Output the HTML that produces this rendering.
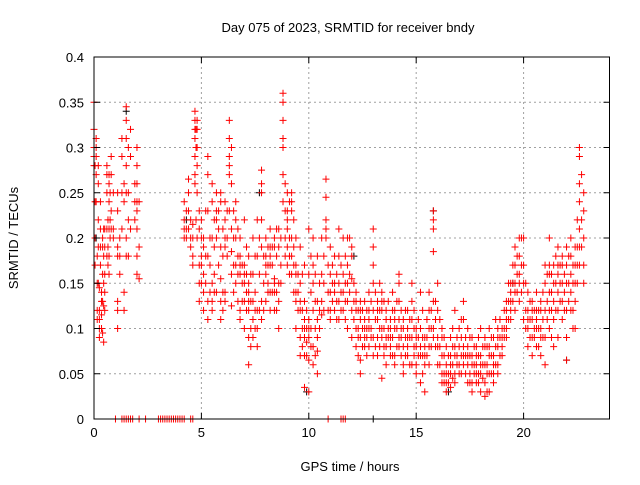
<!DOCTYPE html>
<html><head><meta charset="utf-8"><style>
body{margin:0;background:#fff;}
svg text{font-family:"Liberation Sans",sans-serif;font-size:13px;fill:#000;}
</style></head><body>
<svg id="c" width="640" height="480" xmlns="http://www.w3.org/2000/svg">
<rect width="640" height="480" fill="#fff"/>
<g id="grid"></g>
<g id="pts"></g>
<rect x="94" y="57" width="515.5" height="362" fill="none" stroke="#000" stroke-width="1"/>
<g id="axes"></g>
<text x="348" y="32" text-anchor="middle">Day 075 of 2023, SRMTID for receiver bndy</text>
<text x="350" y="471" text-anchor="middle">GPS time / hours</text>
<text transform="translate(18,238) rotate(-90)" text-anchor="middle">SRMTID / TECUs</text>
</svg>
<script>
const xTicks=[0,5,10,15,20];
const yTicks=[0,0.05,0.1,0.15,0.2,0.25,0.3,0.35,0.4];
const yTickLabels=["0","0.05","0.1","0.15","0.2","0.25","0.3","0.35","0.4"];
const redGroups=[
[0.0,[0.35,0.32,0.3,0.28,0.29]],[0.05,[0.28,0.24,0.17,0.2]],[0.1,[0.31,0.3,0.29,0.27,0.24]],[0.15,[0.15,0.12,0.18,0.11]],
[0.2,[0.28,0.26,0.22,0.19,0.15]],[0.25,[0.145,0.12,0.11,0.09,0.1]],[0.3,[0.24,0.21,0.19,0.17]],[0.35,[0.14,0.13,0.115,0.1]],
[0.4,[0.2,0.19,0.16,0.13,0.095]],[0.45,[0.21,0.18,0.15,0.125,0.085]],[0.5,[0.21,0.19,0.16,0.14,0.12]],
[0.6,[0.28,0.27,0.25,0.21,0.18]],[0.65,[0.22,0.19,0.17]],[0.7,[0.27,0.26,0.24,0.21,0.18,0.16]],[0.75,[0.25,0.22,0.2]],[0.8,[0.29,0.27,0.23,0.21]],[0.9,[0.25,0.21,0.2]],
[1.1,[0.25,0.23,0.19,0.18,0.13,0.12,0.1]],[1.2,[0.2,0.18,0.16]],[1.3,[0.31,0.29,0.25,0.21]],[1.4,[0.26,0.24,0.14,0.12]],[1.5,[0.345,0.33,0.31,0.28,0.25,0.2,0.18]],
[1.6,[0.3,0.25,0.22,0.18]],[1.7,[0.32,0.29,0.21]],[1.9,[0.26,0.24,0.22]],[2.0,[0.3,0.28,0.26,0.24,0.23,0.21,0.18,0.16]],[2.1,[0.24,0.19,0.155]],
[4.2,[0.24,0.22,0.21,0.2]],[4.3,[0.23,0.21,0.2]],[4.4,[0.265,0.25,0.23,0.21]],[4.5,[0.22,0.2,0.19]],[4.6,[0.2,0.18,0.17,0.215]],
[4.7,[0.34,0.33,0.32,0.31,0.29,0.27,0.26]],[4.75,[0.32,0.3,0.22]],[4.8,[0.33,0.32,0.3,0.28,0.25,0.2]],[4.9,[0.23,0.21,0.17,0.15,0.13]],
[5.0,[0.22,0.2,0.18,0.17,0.15]],[5.1,[0.2,0.19,0.16,0.14,0.12]],[5.2,[0.23,0.18,0.15]],[5.3,[0.29,0.27,0.23,0.18,0.13,0.11]],[5.4,[0.2,0.17,0.14]],
[5.5,[0.26,0.24,0.2,0.15,0.13,0.12]],[5.6,[0.22,0.19,0.16,0.14]],[5.7,[0.25,0.23,0.22,0.2,0.14]],[5.8,[0.23,0.21,0.17]],[5.9,[0.25,0.24,0.19,0.155,0.13,0.11]],
[6.0,[0.21,0.18,0.14,0.12]],[6.1,[0.24,0.22,0.2,0.19,0.14,0.13]],[6.2,[0.23,0.2,0.18]],[6.3,[0.33,0.31,0.29,0.28,0.27,0.23]],[6.4,[0.3,0.26,0.21,0.185,0.16,0.125]],
[6.5,[0.23,0.2,0.17,0.14]],[6.6,[0.24,0.22,0.2,0.17,0.15]],[6.7,[0.21,0.18,0.16,0.13]],[6.8,[0.2,0.18,0.17,0.16,0.12,0.11]],[6.9,[0.17,0.15,0.13]],[7.0,[0.22,0.17,0.16,0.15,0.13,0.1]],
[7.1,[0.19,0.16,0.14,0.12]],[7.2,[0.18,0.15,0.14,0.13,0.12,0.09,0.06]],[7.3,[0.16,0.13,0.1,0.08]],[7.4,[0.2,0.16,0.13,0.11,0.09]],[7.5,[0.18,0.14,0.12,0.1]],[7.6,[0.22,0.18,0.12,0.1,0.08]],
[7.7,[0.2,0.16,0.12]],[7.8,[0.275,0.26,0.25,0.22,0.19,0.13,0.11]],[7.9,[0.18,0.15,0.12]],[8.0,[0.2,0.18,0.17,0.16,0.13]],[8.1,[0.19,0.17,0.15,0.14]],[8.2,[0.21,0.19,0.18,0.17,0.14,0.12]],
[8.3,[0.19,0.17,0.14]],[8.4,[0.2,0.19,0.155,0.15,0.14,0.12]],[8.5,[0.21,0.18,0.14,0.12]],[8.6,[0.21,0.19,0.15,0.13,0.1]],[8.7,[0.2,0.17,0.15]],[8.8,[0.36,0.35,0.33,0.31,0.3,0.27,0.24]],
[8.9,[0.26,0.23,0.2,0.18]],[9.0,[0.25,0.23,0.22,0.21,0.19,0.17]],[9.1,[0.24,0.2,0.18,0.16]],[9.2,[0.25,0.24,0.23,0.2,0.18,0.16]],[9.3,[0.22,0.19,0.17,0.14]],[9.4,[0.2,0.17,0.16,0.14,0.13,0.1]],
[9.5,[0.16,0.14,0.12]],[9.6,[0.19,0.15,0.13,0.12,0.09,0.07]],[9.7,[0.16,0.12,0.1,0.08]],[9.8,[0.17,0.13,0.11,0.1,0.09,0.07,0.035]],[9.9,[0.12,0.1,0.085,0.07]],[10.0,[0.21,0.16,0.11,0.1,0.09,0.065,0.03]],
[10.1,[0.18,0.14,0.1,0.08]],[10.2,[0.2,0.17,0.15,0.12,0.08,0.06]],[10.3,[0.16,0.13,0.1,0.07]],[10.4,[0.18,0.13,0.11,0.09,0.075,0.05]],[10.5,[0.15,0.12,0.1]],[10.6,[0.2,0.16,0.13,0.115]],
[10.7,[0.18,0.15,0.12]],[10.8,[0.265,0.245,0.22,0.21,0.2]],[10.9,[0.17,0.14,0.12]],[11.0,[0.19,0.16,0.14,0.12,0.11]],[11.1,[0.17,0.15,0.13]],[11.2,[0.18,0.15,0.14,0.12]],
[11.3,[0.16,0.13,0.11]],[11.4,[0.21,0.18,0.15,0.13,0.11]],[11.5,[0.17,0.14,0.12]],[11.6,[0.2,0.16,0.14,0.12]],[11.7,[0.18,0.15,0.13,0.11]],[11.8,[0.2,0.17,0.15,0.13,0.1]],
[11.9,[0.2,0.16,0.14]],[12.0,[0.19,0.18,0.155,0.12,0.09]],[12.1,[0.15,0.13,0.11]],[12.2,[0.14,0.13,0.12,0.1,0.08]],[12.3,[0.12,0.1,0.09,0.07]],[12.4,[0.13,0.12,0.11,0.09,0.05,0.065]],
[12.5,[0.12,0.1,0.08]],[12.6,[0.13,0.11,0.1,0.09,0.08]],[12.7,[0.12,0.1,0.09,0.07]],[12.8,[0.14,0.12,0.11,0.1,0.08]],[12.9,[0.13,0.1,0.09]],[13.0,[0.21,0.19,0.17,0.15,0.12,0.09,0.07]],
[13.1,[0.14,0.11,0.08]],[13.2,[0.13,0.12,0.11,0.09,0.07]],[13.3,[0.15,0.12,0.1,0.08]],[13.4,[0.14,0.13,0.12,0.1,0.09,0.045]],[13.5,[0.13,0.1,0.08,0.07]],[13.6,[0.12,0.11,0.09,0.08,0.06]],
[13.7,[0.13,0.1,0.09]],[13.8,[0.11,0.1,0.09,0.08,0.07]],[13.9,[0.14,0.12,0.09,0.07]],[14.0,[0.12,0.11,0.1,0.07,0.06]],[14.1,[0.13,0.1,0.08]],[14.2,[0.16,0.15,0.13,0.11,0.09,0.08]],
[14.3,[0.12,0.1,0.09,0.07]],[14.4,[0.11,0.1,0.08,0.06,0.05]],[14.5,[0.12,0.09,0.07]],[14.6,[0.12,0.1,0.09,0.08,0.07]],[14.7,[0.11,0.09,0.06]],[14.8,[0.15,0.13,0.11,0.09,0.06]],
[14.9,[0.12,0.1,0.08,0.07]],[15.0,[0.1,0.09,0.08,0.06,0.05]],[15.1,[0.11,0.09,0.07]],[15.2,[0.14,0.1,0.08,0.07,0.04]],[15.3,[0.12,0.09,0.07,0.05]],[15.4,[0.09,0.08,0.07,0.06,0.03]],
[15.5,[0.11,0.09,0.07]],[15.6,[0.14,0.12,0.1,0.08,0.06]],[15.7,[0.12,0.1,0.08]],[15.8,[0.23,0.22,0.21,0.185,0.13,0.1,0.09]],[15.9,[0.13,0.11,0.08]],[16.0,[0.15,0.12,0.09,0.08,0.06]],
[16.1,[0.11,0.08,0.06]],[16.2,[0.1,0.09,0.07,0.05,0.04]],[16.3,[0.09,0.07,0.05,0.04]],[16.4,[0.08,0.06,0.05,0.04,0.03]],[16.5,[0.07,0.05,0.04]],[16.6,[0.09,0.07,0.06,0.05,0.035]],
[16.7,[0.1,0.08,0.06,0.045]],[16.8,[0.12,0.08,0.07,0.05,0.04]],[16.9,[0.09,0.07,0.06]],[17.0,[0.1,0.08,0.06,0.05]],[17.1,[0.11,0.09,0.07,0.05]],[17.2,[0.13,0.11,0.08,0.07,0.06]],
[17.3,[0.09,0.07,0.05]],[17.4,[0.1,0.08,0.07,0.06,0.04]],[17.5,[0.09,0.07,0.05,0.04]],[17.6,[0.09,0.07,0.06,0.04,0.03]],[17.7,[0.08,0.06,0.05]],[17.8,[0.08,0.07,0.06,0.05,0.04]],
[17.9,[0.09,0.07,0.05,0.04]],[18.0,[0.1,0.07,0.06,0.05,0.03]],[18.1,[0.08,0.06,0.045]],[18.2,[0.09,0.08,0.06,0.04,0.025]],[18.3,[0.08,0.06,0.05,0.03]],[18.4,[0.1,0.08,0.07,0.05,0.03]],
[18.5,[0.09,0.07,0.05]],[18.6,[0.09,0.07,0.06,0.05,0.04]],[18.7,[0.11,0.08,0.06]],[18.8,[0.1,0.09,0.08,0.06,0.05]],[18.9,[0.11,0.09,0.07]],[19.0,[0.1,0.09,0.08,0.07]],
[19.1,[0.12,0.1,0.09]],[19.2,[0.13,0.12,0.11,0.1,0.09]],[19.3,[0.15,0.13,0.11]],[19.4,[0.15,0.14,0.13,0.12,0.11]],[19.5,[0.17,0.15,0.13]],[19.6,[0.19,0.17,0.15,0.14,0.12]],
[19.7,[0.18,0.16,0.14]],[19.8,[0.2,0.18,0.16,0.15,0.13]],[19.9,[0.2,0.17,0.14]],[20.0,[0.2,0.17,0.15,0.11]],[20.1,[0.15,0.12,0.1]],[20.2,[0.14,0.12,0.11,0.1,0.08]],
[20.3,[0.13,0.11,0.09]],[20.4,[0.13,0.12,0.11,0.09,0.07]],[20.5,[0.12,0.1,0.09]],[20.6,[0.14,0.12,0.11,0.1,0.08]],[20.7,[0.12,0.1,0.08]],[20.8,[0.13,0.12,0.1,0.09,0.07]],
[20.9,[0.14,0.11,0.09]],[21.0,[0.17,0.15,0.12,0.09,0.06]],[21.1,[0.16,0.13,0.11]],[21.2,[0.2,0.17,0.16,0.14,0.12,0.1]],[21.3,[0.16,0.14,0.12,0.09]],[21.4,[0.17,0.15,0.13,0.11,0.08]],
[21.5,[0.18,0.15,0.12]],[21.6,[0.19,0.17,0.16,0.14,0.12,0.09]],[21.7,[0.17,0.15,0.13]],[21.8,[0.18,0.17,0.15,0.13,0.11]],[21.9,[0.16,0.14,0.12]],[22.0,[0.19,0.17,0.15,0.12,0.09,0.065]],
[22.1,[0.18,0.15,0.13]],[22.2,[0.2,0.18,0.16,0.14,0.12]],[22.3,[0.17,0.15,0.12,0.1]],[22.4,[0.19,0.17,0.15,0.13,0.1]],[22.5,[0.22,0.19,0.17,0.15]],[22.6,[0.3,0.29,0.26,0.24,0.21,0.19,0.17]],
[22.7,[0.27,0.22,0.19]],[22.8,[0.25,0.23,0.2,0.17,0.15]]
];
const redZeroTimes=[1.0,1.3,1.4,1.5,1.6,1.7,1.8,2.1,2.4,3.0,3.1,3.2,3.3,3.4,3.5,3.6,3.7,3.8,3.9,4.0,4.1,4.2,4.5,4.6,10.9,11.5,11.6,11.7];
const blackTimes=[0.1,1.5,4.3,7.7,9.9,12.1,13.0,15.8,16.5,19.5,22.0];
const blackValues=[0.2,0.34,0.22,0.25,0.03,0.18,0,0.23,0.03,0.15,0.065];

const X0=94,X1=609.5,Y0=419,Y1=57;
const sx=t=>X0+(t/24)*(X1-X0);
const sy=v=>Y0-(v/0.4)*(Y0-Y1);
const NS="http://www.w3.org/2000/svg";
function mk(tag,attrs,parent){const e=document.createElementNS(NS,tag);for(const k in attrs)e.setAttribute(k,attrs[k]);parent.appendChild(e);return e;}
const grid=document.getElementById('grid'),axes=document.getElementById('axes'),pts=document.getElementById('pts');
xTicks.forEach(t=>{
  const x=sx(t);
  if(t>0){const g=mk('line',{x1:x,x2:x,y1:Y1,y2:Y0,stroke:'#a0a0a0','stroke-dasharray':'2,3'},grid);
  
  }
  mk('line',{x1:x,x2:x,y1:Y0,y2:Y0-6,stroke:'#000'},axes);
  mk('line',{x1:x,x2:x,y1:Y1,y2:Y1+6,stroke:'#000'},axes);
  const l=mk('text',{x:x,y:Y0+18,'text-anchor':'middle'},axes);l.textContent=t;
  
  
});
yTicks.forEach((v,i)=>{
  const y=sy(v);
  if(i>0&&i<yTicks.length-1){const g=mk('line',{x1:X0,x2:X1,y1:y,y2:y,stroke:'#a0a0a0','stroke-dasharray':'2,3'},grid);
  
  }
  mk('line',{x1:X0,x2:X0+6,y1:y,y2:y,stroke:'#000'},axes);
  mk('line',{x1:X1,x2:X1-6,y1:y,y2:y,stroke:'#000'},axes);
  const l=mk('text',{x:X0-10,y:y+5,'text-anchor':'end'},axes);l.textContent=yTickLabels[i];
  
  
});
function plus(t,v,col){
  const x=sx(t),y=sy(v);
  const p=mk('path',{d:`M${x-3.5},${y}h7M${x},${y-3.5}v7`,stroke:col,'stroke-width':1,fill:'none'},pts);
  
  
}
blackTimes.forEach((t,i)=>plus(t,blackValues[i],'#000'));
redGroups.forEach(g=>g[1].forEach(v=>plus(g[0],v,'#f00')));
redZeroTimes.forEach(t=>plus(t,0,'#f00'));
</script>
</body></html>
